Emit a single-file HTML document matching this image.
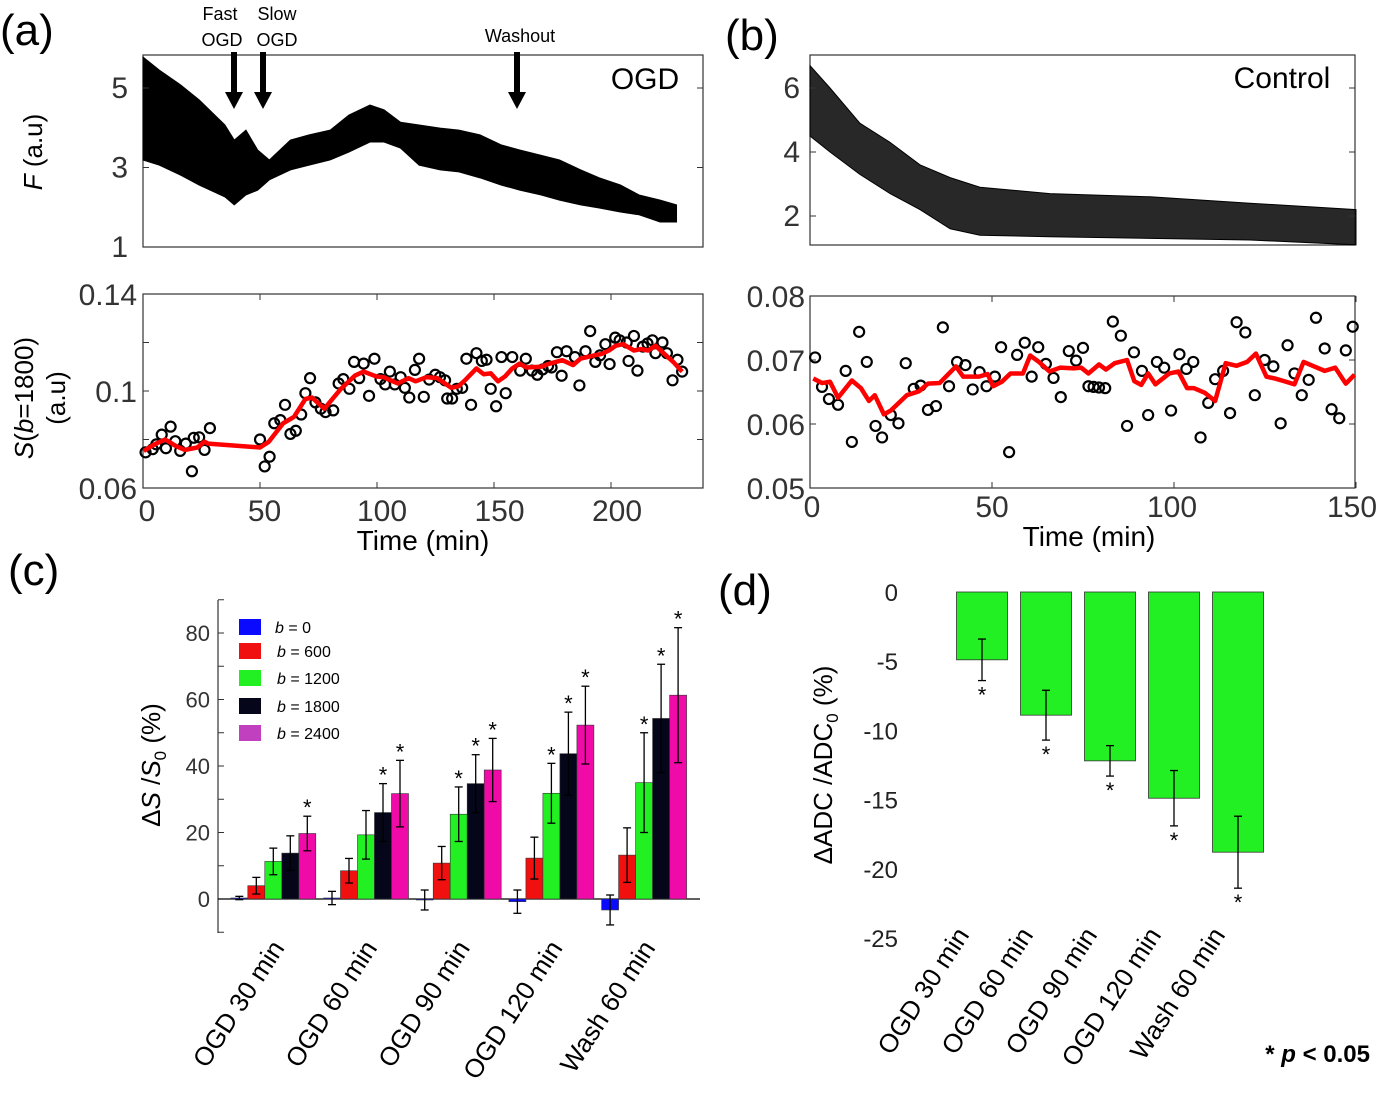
<!DOCTYPE html>
<html><head><meta charset="utf-8"><style>
html,body{margin:0;padding:0;background:#fff;}
svg{display:block;font-family:"Liberation Sans",sans-serif;}
</style></head><body>
<svg id="fig" width="1400" height="1108" viewBox="0 0 1400 1108" xmlns="http://www.w3.org/2000/svg">
<g id="root"></g>
</svg>
<script>
// ---------- Panel (a) top envelope ----------
const aTopTime=[0,7,16,24,35,39,44,49,54,63,71,80,88,97,103,110,118,127,135,144,153,161,170,178,187,195,204,212,221,228];
const aTopUpper=[5.78,5.45,5.08,4.70,4.07,3.69,3.94,3.44,3.19,3.69,3.82,3.94,4.32,4.57,4.45,4.14,4.07,3.99,3.94,3.82,3.57,3.44,3.31,3.19,2.94,2.74,2.56,2.31,2.18,2.06];
const aTopLower=[3.19,3.06,2.81,2.56,2.26,2.06,2.31,2.43,2.69,2.94,3.06,3.19,3.39,3.64,3.64,3.49,3.06,2.94,2.89,2.74,2.56,2.43,2.31,2.18,2.06,1.98,1.88,1.81,1.63,1.63];
const aTopYTicks=[1,3,5];
// ---------- Panel (a) bottom ----------
const aTime=[1.1,4.1,5.7,8.0,9.8,11.8,13.8,15.9,18.3,20.9,21.7,24.0,26.3,28.6,50.0,52.0,54.1,56.1,58.7,60.7,63.0,65.3,67.6,69.4,71.4,73.7,76.0,78.0,81.3,83.6,85.6,88.2,90.2,92.4,94.3,96.6,98.9,101.5,103.5,105.5,107.6,110.1,111.9,113.8,116.2,118.0,120.0,122.3,124.9,126.9,129.1,130.0,132.1,134.1,136.4,138.2,140.2,142.5,144.8,146.8,148.6,150.9,153.2,155.0,157.8,161.2,163.6,166.2,168.5,170.8,173.1,174.6,176.9,178.9,181.0,184.6,186.5,189.1,191.1,193.3,195.3,197.6,199.4,201.8,203.7,206.7,207.5,209.8,211.3,213.6,215.6,217.7,219.0,222.0,223.9,226.3,228.4,230.4];
const aVal=[0.0747,0.0760,0.0780,0.0820,0.0764,0.0853,0.0793,0.0753,0.0783,0.0669,0.0807,0.0809,0.0757,0.0847,0.0800,0.0689,0.0729,0.0867,0.0880,0.0943,0.0823,0.0836,0.0903,0.0991,0.1053,0.0953,0.0927,0.0913,0.0920,0.1031,0.1049,0.1009,0.1120,0.1053,0.1113,0.0980,0.1133,0.1049,0.1027,0.1080,0.1027,0.1057,0.1013,0.0973,0.1087,0.1133,0.0976,0.1047,0.1067,0.1057,0.1044,0.0969,0.0969,0.1009,0.1013,0.1133,0.0943,0.1156,0.1124,0.1129,0.1009,0.0937,0.1140,0.0991,0.1140,0.1084,0.1133,0.1084,0.1067,0.1089,0.1103,0.1097,0.1160,0.1063,0.1164,0.1140,0.1023,0.1164,0.1247,0.1120,0.1147,0.1193,0.1111,0.1220,0.1209,0.1200,0.1124,0.1227,0.1084,0.1183,0.1196,0.1209,0.1156,0.1200,0.1156,0.1044,0.1129,0.1080];
const aFitTime=[0.3,4.9,9.5,14.1,17.9,23.2,26.3,27.8,50.0,53.8,59.9,64.5,69.4,72.2,77.5,84.4,90.5,94.3,99.7,102.8,105.8,108.9,113.5,116.5,121.1,125.7,131.8,134.9,137.9,142.5,145.6,148.6,151.7,154.7,157.8,160.9,163.9,170.0,173.1,179.2,183.8,186.9,193.0,196.0,199.1,202.1,205.2,209.8,212.8,215.9,219.0,222.0,226.6,230.4];
const aFitVal=[0.0753,0.0780,0.0800,0.0773,0.0757,0.0767,0.0791,0.0783,0.0767,0.0791,0.0867,0.0893,0.0967,0.0973,0.0927,0.1007,0.1063,0.1080,0.1060,0.1057,0.1044,0.1031,0.1053,0.1040,0.1057,0.1053,0.1013,0.1020,0.1047,0.1093,0.1069,0.1073,0.1040,0.1060,0.1093,0.1113,0.1097,0.1100,0.1111,0.1127,0.1107,0.1133,0.1147,0.1153,0.1167,0.1187,0.1193,0.1167,0.1173,0.1167,0.1187,0.1160,0.1120,0.1080];
const aYTickLabels=["0.06","0.1","0.14"];
const aYTicks=[0.06,0.08,0.10,0.12,0.14];
const aXTicks=[0,50,100,150,200];
// ---------- Panel (b) top ----------
const bTopTime=[0,5.5,13.7,22,30.2,38.5,46.7,65.9,93.4,120.9,150];
const bTopUpper=[6.7,6.0,4.9,4.3,3.6,3.2,2.9,2.7,2.6,2.4,2.2];
const bTopLower=[4.5,4.0,3.3,2.7,2.2,1.6,1.4,1.35,1.3,1.25,1.1];
const bTopYTicks=[2,4,6];
// ---------- Panel (b) bottom ----------
const bTime=[1.4,3.3,5.2,7.7,9.8,11.5,13.5,15.6,18.0,19.8,22.2,24.3,26.3,28.5,30.4,32.4,34.6,36.5,38.2,40.4,42.7,44.7,46.6,48.5,50.8,52.5,54.7,56.9,59.0,60.9,62.7,64.8,66.9,68.9,71.1,73.1,75.0,76.5,77.9,79.4,81.1,83.2,85.4,87.1,89.0,91.2,92.9,95.3,97.3,99.2,101.5,103.4,105.3,107.3,109.4,111.3,113.5,115.4,117.2,119.6,122.2,124.9,127.3,129.3,131.2,133.1,135.1,137.0,139.0,141.4,143.3,145.4,147.2,149.1];
const bVal=[0.0704,0.0658,0.0639,0.0630,0.0683,0.0572,0.0744,0.0697,0.0597,0.0579,0.0614,0.0601,0.0695,0.0655,0.0660,0.0622,0.0628,0.0751,0.0659,0.0697,0.0692,0.0654,0.0681,0.0659,0.0674,0.0720,0.0556,0.0708,0.0727,0.0674,0.0720,0.0694,0.0672,0.0642,0.0714,0.0699,0.0719,0.0659,0.0658,0.0657,0.0656,0.0760,0.0738,0.0597,0.0712,0.0683,0.0614,0.0697,0.0688,0.0621,0.0709,0.0686,0.0697,0.0579,0.0633,0.0670,0.0683,0.0617,0.0759,0.0743,0.0645,0.0700,0.0690,0.0601,0.0723,0.0679,0.0645,0.0669,0.0766,0.0718,0.0623,0.0609,0.0715,0.0752];
const bFitTime=[0.9,3.3,5.5,7.7,11.5,14.0,16.2,17.8,20.3,22.2,26.6,29.9,32.4,35.6,40.1,42.1,46.4,48.8,50.3,52.7,55.1,58.5,60.5,62.9,65.8,68.7,72.6,74.5,76.5,79.4,81.3,83.7,87.1,89.1,91.0,92.9,94.9,98.7,101.2,103.6,105.5,108.4,111.3,114.2,117.2,120.1,122.5,125.4,127.8,130.2,133.1,135.6,138.5,141.4,144.3,147.2,149.6];
const bFitVal=[0.0671,0.0664,0.0666,0.0641,0.0668,0.0656,0.0636,0.0645,0.0615,0.0621,0.0645,0.0651,0.0663,0.0664,0.0690,0.0674,0.0674,0.0678,0.0659,0.0666,0.0679,0.0679,0.0707,0.0697,0.0682,0.0688,0.0687,0.0688,0.0679,0.0693,0.0685,0.0695,0.0700,0.0667,0.0661,0.0679,0.0662,0.0679,0.0682,0.0656,0.0656,0.0649,0.0636,0.0695,0.0691,0.0697,0.0710,0.0674,0.0671,0.0667,0.0662,0.0697,0.0690,0.0683,0.0688,0.0663,0.0677];
const bYTicks=[0.05,0.06,0.07,0.08];
const bXTicks=[0,50,100,150];
// ---------- Panel (c) ----------
const cCategories=["OGD 30 min","OGD 60 min","OGD 90 min","OGD 120 min","Wash 60 min"];
const cSeries=["b = 0","b = 600","b = 1200","b = 1800","b = 2400"];
const cB0=[0.3,0.3,-0.3,-0.8,-3.3];
const cB600=[4,8.5,10.8,12.3,13.2];
const cB1200=[11.3,19.3,25.5,31.8,35];
const cB1800=[13.8,26,34.7,43.7,54.3];
const cB2400=[19.7,31.7,38.8,52.3,61.3];
const cErr0=[0.5,2,3,3.5,4.5];
const cErr600=[2.5,3.7,5,6.3,8.2];
const cErr1200=[4,7.3,8.2,9,15];
const cErr1800=[5.2,8.7,8.7,12.5,16.3];
const cErr2400=[5.2,10,9.5,11.7,20.3];
const cSig0=[0,0,0,0,0];
const cSig600=[0,0,0,0,0];
const cSig1200=[0,0,1,1,1];
const cSig1800=[0,1,1,1,1];
const cSig2400=[1,1,1,1,1];
const cYTicks=[0,20,40,60,80];
// ---------- Panel (d) ----------
const dCategories=["OGD 30 min","OGD 60 min","OGD 90 min","OGD 120 min","Wash 60 min"];
const dVal=[-4.9,-8.9,-12.2,-14.9,-18.8];
const dErr=[1.5,1.8,1.1,2.0,2.6];
const dYTicks=[0,-5,-10,-15,-20,-25];

const NS="http://www.w3.org/2000/svg";
const root=document.getElementById('root');
function el(tag,attrs,parent){const e=document.createElementNS(NS,tag);for(const k in attrs)e.setAttribute(k,attrs[k]);(parent||root).appendChild(e);return e;}
function txt(s,attrs,parent){const e=el('text',attrs,parent);e.textContent=s;return e;}

// scales
const xA=t=>143+t*2.34;
const yAtop=v=>247-(v-1)*39.75;
const yA=v=>488-(v-0.06)*2425;
const xB=t=>810+t*3.64;
const yBtop=v=>216-(v-2)*32;
const yB=v=>488-(v-0.05)*6400;
const xC=(g,s)=>239.3+g*92.7+s*17;
const yC=v=>899-v*3.325;
const xD=i=>982+i*64;
const yD=v=>592-v*13.84;

function frame(x1,y1,x2,y2,name){const r=el('rect',{x:x1,y:y1,width:x2-x1,height:y2-y1,fill:'none',stroke:'#333','stroke-width':1.2});

}

// ===== Panel a top =====
frame(143,55,703,247,'panel-a-top-frame');
{const pts=[];aTopTime.forEach((t,i)=>pts.push(xA(t)+','+yAtop(aTopUpper[i])));
for(let i=aTopTime.length-1;i>=0;i--)pts.push(xA(aTopTime[i])+','+yAtop(aTopLower[i]));
const p=el('polygon',{points:pts.join(' '),fill:'#000',stroke:'#000','stroke-width':1});

}
aTopYTicks.forEach(v=>{const y=yAtop(v);el('line',{x1:143,y1:y,x2:149,y2:y,stroke:'#333'});el('line',{x1:697,y1:y,x2:703,y2:y,stroke:'#333'});
const t=txt(String(v),{x:128,y:y+10,'font-size':30,'text-anchor':'end',fill:'#333'});

});
// arrows
[[234,'fast-ogd-arrow'],[263,'slow-ogd-arrow'],[517,'washout-arrow']].forEach(a=>{
const g=el('g',{});
el('rect',{x:a[0]-3,y:52,width:6,height:42,fill:'#000'},g);
el('polygon',{points:`${a[0]-9},92 ${a[0]+9},92 ${a[0]},109`,fill:'#000'},g);});
txt('Fast',{x:220,y:20,'font-size':18,'text-anchor':'middle'});
txt('OGD',{x:222,y:46,'font-size':18,'text-anchor':'middle'});
txt('Slow',{x:277,y:20,'font-size':18,'text-anchor':'middle'});
txt('OGD',{x:277,y:46,'font-size':18,'text-anchor':'middle'});
txt('Washout',{x:520,y:42,'font-size':18,'text-anchor':'middle'});
txt('OGD',{x:645,y:89,'font-size':30,'text-anchor':'middle'});
txt('(a)',{x:0,y:45,'font-size':44});
{const t=txt('',{transform:'translate(42,152) rotate(-90)','font-size':26,'text-anchor':'middle'});
t.innerHTML='<tspan font-style="italic">F</tspan> (a.u)';}

// ===== Panel a bottom =====
frame(143,294,703,488,'panel-a-bottom-frame');
aYTicks.forEach(v=>{const y=yA(v);el('line',{x1:143,y1:y,x2:149,y2:y,stroke:'#333'});el('line',{x1:697,y1:y,x2:703,y2:y,stroke:'#333'});});
aYTickLabels.forEach(s=>{const y=yA(parseFloat(s));const t=txt(s,{x:137,y:y+11,'font-size':30,'text-anchor':'end',fill:'#333'});
});
aXTicks.forEach(v=>{const x=xA(v);el('line',{x1:x,y1:488,x2:x,y2:482,stroke:'#333'});el('line',{x1:x,y1:294,x2:x,y2:300,stroke:'#333'});
const t=txt(String(v),{x:147+v*2.35,y:521,'font-size':30,'text-anchor':'middle',fill:'#333'});
});
txt('Time (min)',{x:423,y:550,'font-size':28,'text-anchor':'middle'});
aTime.forEach((t,i)=>{const c=el('circle',{cx:xA(t),cy:yA(aVal[i]),r:5,fill:'none',stroke:'#000','stroke-width':2.2});
});
{const p=el('polyline',{points:aFitTime.map((t,i)=>xA(t)+','+yA(aFitVal[i])).join(' '),fill:'none',stroke:'#f00','stroke-width':4.5,'stroke-linejoin':'round'});
}
{const t=txt('',{transform:'translate(0,0)','font-size':26,'text-anchor':'middle'});
t.innerHTML='<tspan x="0" dy="0" transform="">x</tspan>';root.removeChild(t);}
{const g=el('g',{transform:'translate(33,398) rotate(-90)'});
const t1=txt('',{x:0,y:0,'font-size':26,'text-anchor':'middle'},g);t1.innerHTML='<tspan font-style="italic">S</tspan>(<tspan font-style="italic">b</tspan>=1800)';
txt('(a.u)',{x:0,y:32,'font-size':26,'text-anchor':'middle'},g);}

// ===== Panel b top =====
frame(810,55,1355,245,'panel-b-top-frame');
{const pts=[];bTopTime.forEach((t,i)=>pts.push(xB(t)+','+yBtop(bTopUpper[i])));
for(let i=bTopTime.length-1;i>=0;i--)pts.push(xB(bTopTime[i])+','+yBtop(bTopLower[i]));
const p=el('polygon',{points:pts.join(' '),fill:'#111','fill-opacity':0.9,stroke:'#000','stroke-width':1});
}
bTopYTicks.forEach(v=>{const y=yBtop(v);el('line',{x1:810,y1:y,x2:816,y2:y,stroke:'#333'});el('line',{x1:1349,y1:y,x2:1355,y2:y,stroke:'#333'});
const t=txt(String(v),{x:800,y:y+10,'font-size':30,'text-anchor':'end',fill:'#333'});
});
txt('Control',{x:1282,y:88,'font-size':30,'text-anchor':'middle'});
txt('(b)',{x:725,y:50,'font-size':44});

// ===== Panel b bottom =====
frame(810,296,1355,488,'panel-b-bottom-frame');
bYTicks.forEach(v=>{const y=yB(v);el('line',{x1:810,y1:y,x2:816,y2:y,stroke:'#333'});el('line',{x1:1349,y1:y,x2:1355,y2:y,stroke:'#333'});
const t=txt(v.toFixed(2),{x:805,y:y+11,'font-size':30,'text-anchor':'end',fill:'#333'});
});
bXTicks.forEach(v=>{const x=xB(v);el('line',{x1:x,y1:488,x2:x,y2:482,stroke:'#333'});el('line',{x1:x,y1:296,x2:x,y2:302,stroke:'#333'});
const t=txt(String(v),{x:812+v*3.6,y:517,'font-size':30,'text-anchor':'middle',fill:'#333'});
});
txt('Time (min)',{x:1089,y:546,'font-size':28,'text-anchor':'middle'});
bTime.forEach((t,i)=>{const c=el('circle',{cx:xB(t),cy:yB(bVal[i]),r:5,fill:'none',stroke:'#000','stroke-width':2.2});
});
{const p=el('polyline',{points:bFitTime.map((t,i)=>xB(t)+','+yB(bFitVal[i])).join(' '),fill:'none',stroke:'#f00','stroke-width':4.5,'stroke-linejoin':'round'});
}

// ===== Panel c =====
txt('(c)',{x:8,y:585,'font-size':44});
el('line',{x1:218,y1:600,x2:218,y2:933,stroke:'#333','stroke-width':1.2});
for(let v=-10;v<=90;v+=10){const y=yC(v);el('line',{x1:218,y1:y,x2:224,y2:y,stroke:'#333'});}
el('line',{x1:218,y1:yC(0),x2:700,y2:yC(0),stroke:'#000','stroke-width':1.2});
cYTicks.forEach(v=>{const t=txt(String(v),{x:210,y:yC(v)+8,'font-size':22,'text-anchor':'end',fill:'#333'});
});
{const t=txt('',{transform:'translate(160,765) rotate(-90)','font-size':26,'text-anchor':'middle'});
t.innerHTML='Δ<tspan font-style="italic">S</tspan> /<tspan font-style="italic">S</tspan><tspan font-size="17" dy="6">0</tspan><tspan dy="-6"> (%)</tspan>';
}
const cColors=['#0a0aff','#f01010','#22f022','#05061a','#f00aa8'];
const cVals=[cB0,cB600,cB1200,cB1800,cB2400];
const cErrs=[cErr0,cErr600,cErr1200,cErr1800,cErr2400];
const cSigs=[cSig0,cSig600,cSig1200,cSig1800,cSig2400];
cCategories.forEach((cat,g)=>{
 cSeries.forEach((s,si)=>{
  const v=cVals[si][g],e=cErrs[si][g],cx=xC(g,si);
  const y0=yC(0),y1=yC(v);
  const r=el('rect',{x:cx-8.5,y:Math.min(y0,y1),width:17,height:Math.abs(y1-y0),fill:cColors[si],stroke:'#333','stroke-width':0.6});
  
  
  const yt=yC(v+e),yb=yC(v-e);
  el('line',{x1:cx,y1:yt,x2:cx,y2:yb,stroke:'#000','stroke-width':1.3});
  el('line',{x1:cx-4,y1:yt,x2:cx+4,y2:yt,stroke:'#000','stroke-width':1.3});
  el('line',{x1:cx-4,y1:yb,x2:cx+4,y2:yb,stroke:'#000','stroke-width':1.3});
  if(cSigs[si][g]){const a=txt('*',{x:cx,y:yt-1,'font-size':22,'text-anchor':'middle'});}
 });
 const gx=xC(g,2)+12;
 const t=txt(cat,{x:0,y:0,'font-size':26,'text-anchor':'end',transform:`translate(${gx},948) rotate(-57)`});
 
});
// legend
const legY=[627,651,678,706,733];
cSeries.forEach((s,i)=>{
 const g=el('g',{});
 el('rect',{x:239,y:legY[i]-8,width:22,height:16,fill:i==4?'#c040c0':cColors[i]},g);
 const t=txt('',{x:i==0?275:277,y:legY[i]+6,'font-size':16},g);
 t.innerHTML='<tspan font-style="italic">b</tspan>'+s.slice(1);
});

// ===== Panel d =====
txt('(d)',{x:718,y:605,'font-size':44});
dYTicks.forEach(v=>{const t=txt(String(v),{x:898,y:yD(v)+9,'font-size':24,'text-anchor':'end',fill:'#222'});
});
{const t=txt('',{transform:'translate(832,765) rotate(-90)','font-size':26,'text-anchor':'middle'});
t.innerHTML='ΔADC /ADC<tspan font-size="17" dy="6">0</tspan><tspan dy="-6"> (%)</tspan>';
}
dCategories.forEach((cat,i)=>{
 const cx=xD(i),v=dVal[i],e=dErr[i];
 const r=el('rect',{x:cx-25.5,y:yD(0),width:51,height:yD(v)-yD(0),fill:'#22f022',stroke:'#333','stroke-width':0.8});
 
 const yt=yD(v+e),yb=yD(v-e);
 el('line',{x1:cx,y1:yt,x2:cx,y2:yb,stroke:'#000','stroke-width':1.3});
 el('line',{x1:cx-4,y1:yt,x2:cx+4,y2:yt,stroke:'#000','stroke-width':1.3});
 el('line',{x1:cx-4,y1:yb,x2:cx+4,y2:yb,stroke:'#000','stroke-width':1.3});
 txt('*',{x:cx,y:yb+22,'font-size':22,'text-anchor':'middle'});
 const t=txt(cat,{x:0,y:0,'font-size':26,'text-anchor':'end',transform:`translate(${cx-12},935) rotate(-57)`});
 
});
{const t=txt('',{x:1370,y:1062,'font-size':24,'font-weight':'bold','text-anchor':'end'});
t.innerHTML='* <tspan font-style="italic">p</tspan> &lt; 0.05';}
</script>
</body></html>
